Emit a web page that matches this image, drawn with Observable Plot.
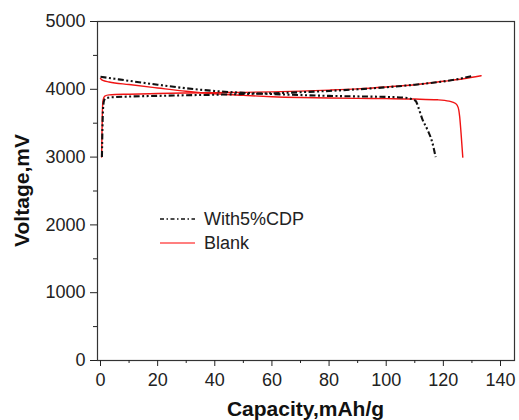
<!DOCTYPE html>
<html><head><meta charset="utf-8">
<script src="https://cdn.jsdelivr.net/npm/d3@7"></script>
<script src="https://cdn.jsdelivr.net/npm/@observablehq/plot@0.6"></script>
<style>
html,body{margin:0;padding:0;background:#fff;}
</style></head><body><div id="chart"></div>
<script>
// Capacity (mAh/g), Voltage (mV)
const cdpCharge = [[0.5,3000],[0.6,3250],[0.75,3550],[0.95,3750],[1.3,3840],[2,3870],[4,3882],[10,3893],[20,3903],[30,3912],[40,3920],[50,3930],[60,3942],[70,3957],[80,3976],[90,4000],[100,4030],[110,4068],[118,4105],[125,4150],[130.5,4200]];
const cdpDischarge = [[0,4185],[5,4155],[10,4125],[20,4068],[30,4015],[40,3975],[50,3948],[60,3930],[70,3915],[80,3903],[90,3895],[100,3888],[106,3878],[108.5,3862],[110.3,3830],[111.4,3715],[112.6,3565],[114.3,3415],[116.1,3220],[117.3,3000]];
const blankCharge = [[0.4,3000],[0.5,3300],[0.65,3650],[0.9,3840],[1.5,3900],[3,3918],[10,3928],[20,3937],[30,3945],[40,3950],[50,3955],[60,3962],[70,3973],[80,3988],[90,4007],[100,4035],[110,4068],[120,4118],[127,4155],[133.2,4200]];
const blankDischarge = [[0,4160],[0.8,4130],[3,4108],[10,4070],[20,4020],[30,3972],[40,3935],[50,3910],[60,3890],[70,3878],[80,3871],[90,3866],[100,3862],[110,3856],[118,3845],[122,3825],[124.3,3790],[125.2,3730],[125.7,3600],[126.2,3350],[126.8,3000]];

const seriesNames = ["With5%CDP", "Blank"];
const xTicks = [0,20,40,60,80,100,120,140];
const xMinor = [10,30,50,70,90,110,130];
const yTicks = [0,1000,2000,3000,4000,5000];
const yMinor = [500,1500,2500,3500,4500];
const xLabel = "Capacity,mAh/g";
const yLabel = "Voltage,mV";

const rows = (arr, seg) => arr.map(([cap, v]) => ({cap, v, seg}));
const cdpRows = [...rows(cdpCharge, "charge"), ...rows(cdpDischarge, "discharge")];
const blankRows = [...rows(blankCharge, "charge"), ...rows(blankDischarge, "discharge")];

const RED = "#f01414", BLACK = "#111";
const DASH = "6,2.5,2,2.5,2,2.5";

const plot = Plot.plot({
  width: 519, height: 420,
  marginLeft: 97, marginRight: 5, marginTop: 21, marginBottom: 60,
  style: {fontFamily: "'Liberation Sans', Arial, sans-serif", fontSize: "18px", color: "#222", background: "#fff", overflow: "visible"},
  x: {domain: [-1.05, 144.9]},
  y: {domain: [0, 5000]},
  marks: [
    Plot.frame({stroke: "#333", strokeWidth: 1.2}),
    Plot.axisX(xTicks, {tickSize: 6, tickPadding: 7, fontSize: 18, label: null}),
    Plot.axisX(xMinor, {tickSize: 3, tickFormat: () => "", label: null}),
    Plot.axisY(yTicks, {tickSize: 7, tickPadding: 5, fontSize: 18, tickFormat: d3.format("d"), label: null}),
    Plot.axisY(yMinor, {tickSize: 4, tickFormat: () => "", label: null}),
    Plot.line(blankRows, {x: "cap", y: "v", z: "seg", stroke: RED, strokeWidth: 1.4, curve: "monotone-x"}),
    Plot.line(cdpRows, {x: "cap", y: "v", z: "seg", stroke: BLACK, strokeWidth: 2.1, strokeDasharray: DASH, strokeLinecap: "butt", strokeLinejoin: "miter", curve: "monotone-x"})
  ]
});

const svg = d3.select(plot);
// axis titles
svg.append("text").attr("x", 305.5).attr("y", 416).attr("text-anchor", "middle")
  .attr("font-size", 21).attr("font-weight", "bold").attr("fill", "#111").text(xLabel);
svg.append("text").attr("transform", "translate(29,190.5) rotate(-90)").attr("text-anchor", "middle")
  .attr("font-size", 21).attr("font-weight", "bold").attr("fill", "#111").text(yLabel);
// legend
const legend = svg.append("g");
const styles = [{stroke: BLACK, w: 1.5, dash: "4,2.5,1.5,2.5"}, {stroke: "#f55", w: 1.4, dash: null}];
seriesNames.forEach((name, i) => {
  const y = 219 + i * 24;
  const ln = legend.append("line").attr("x1", 160).attr("x2", 195).attr("y1", y).attr("y2", y)
    .attr("stroke", styles[i].stroke).attr("stroke-width", styles[i].w);
  if (styles[i].dash) ln.attr("stroke-dasharray", styles[i].dash);
  legend.append("text").attr("x", 204).attr("y", y).attr("dy", "0.35em").attr("text-anchor", "start")
    .attr("font-size", 18).attr("fill", "#222").text(name);
});

document.getElementById("chart").appendChild(plot);
</script></body></html>
